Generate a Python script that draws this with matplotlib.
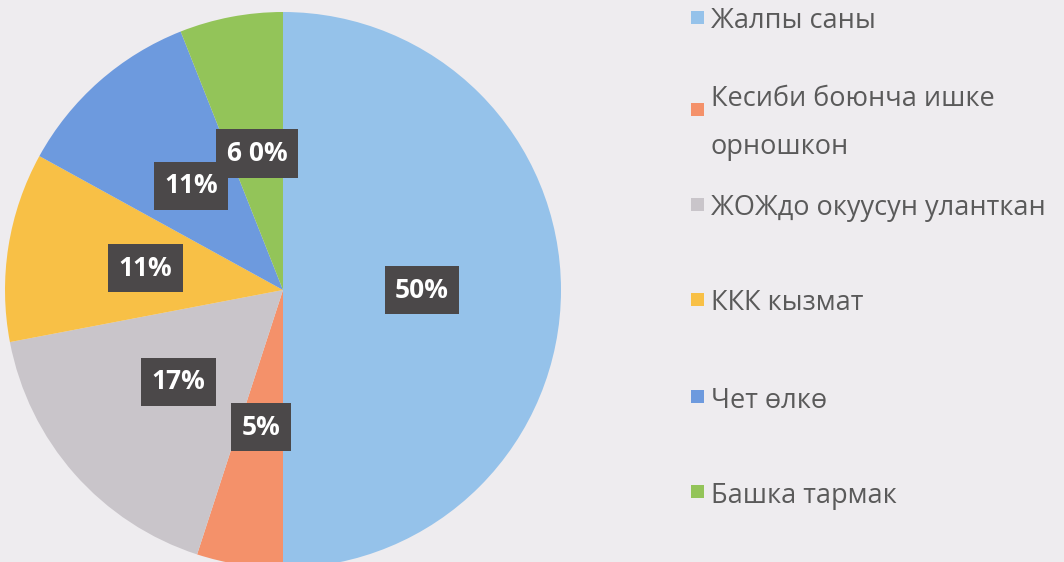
import matplotlib.pyplot as plt
from matplotlib.patches import Rectangle

# data
categories = ['Жалпы саны', 'Кесиби боюнча ишке\nорношкон', 'ЖОЖдо окуусун уланткан',
              'ККК кызмат', 'Чет өлкө', 'Башка тармак']
values = [50, 5, 17, 11, 11, 6]
pct_labels = ['50%', '5%', '17%', '11%', '11%', '6 0%']
colors = ['#95c2ea', '#f4916a', '#c9c5ca', '#f8c046', '#6d9ade', '#93c459']

plt.rcParams['font.family'] = ['Open Sans', 'DejaVu Sans']

fig = plt.figure(figsize=(10.64, 5.62), dpi=100, facecolor='#eeecef')
ax = fig.add_axes([5 / 1064, -6 / 562, 556 / 1064, 556 / 562])
ax.set_facecolor('#eeecef')

idx = iter(range(len(values)))
wedges, texts, autotexts = ax.pie(values, colors=colors, startangle=90, counterclock=False,
                                  radius=1, pctdistance=0.5,
                                  autopct=lambda p: pct_labels[next(idx)],
                                  wedgeprops=dict(linewidth=0))
for t in autotexts:
    t.set_color('white')
    t.set_fontweight('bold')
    t.set_fontsize(19)
    t.set_bbox(dict(boxstyle='square,pad=0.4', facecolor='#4b4849', edgecolor='none'))
ax.set_xlim(-1, 1)
ax.set_ylim(-1, 1)
ax.set_aspect('equal')
ax.axis('off')

# legend drawn by hand
legend_y = [18, 110, 205, 300, 397, 492]
for lab, col, y in zip(categories, colors, legend_y):
    fig.patches.append(Rectangle((691 / 1064, 1 - (y + 6) / 562), 13 / 1064, 13 / 562,
                                 transform=fig.transFigure, facecolor=col, edgecolor='none'))
    fig.text(711 / 1064, 1 - y / 562, lab, fontsize=19.5, color='#5a5a5a',
             va='center_baseline', ha='left', linespacing=1.95)

fig.savefig('out.png', dpi=100, facecolor=fig.get_facecolor())
